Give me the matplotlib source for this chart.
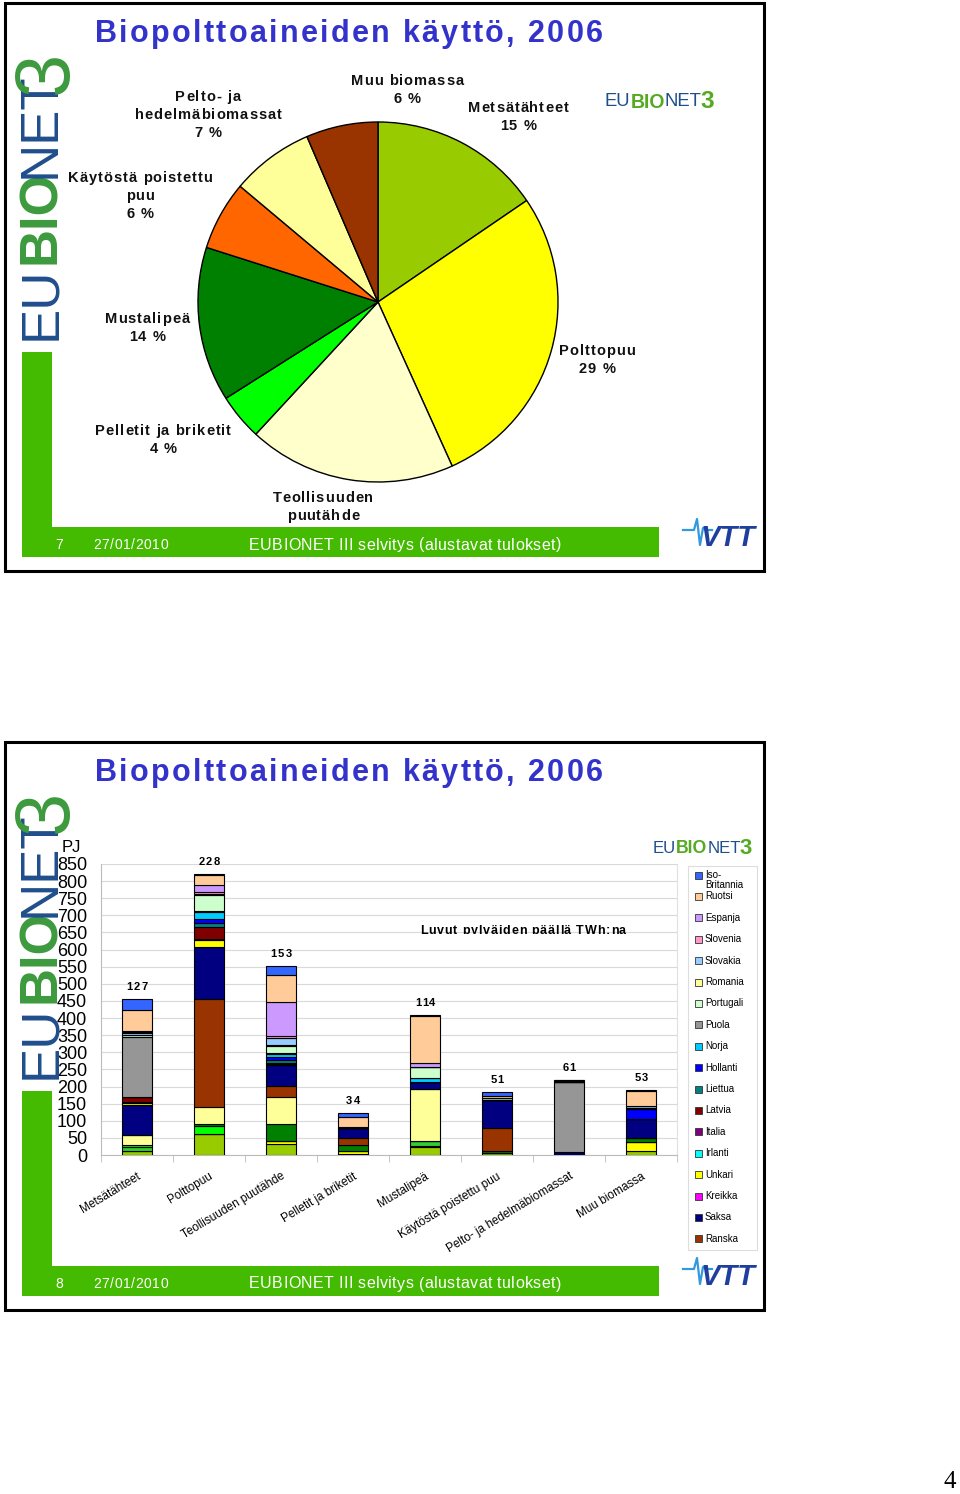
import matplotlib
matplotlib.use("Agg")
import matplotlib.pyplot as plt
from matplotlib.patches import Rectangle
from matplotlib.font_manager import FontProperties
from matplotlib.transforms import Bbox
import numpy as np

# ---------------- data ----------------
categories = ["Metsätähteet", "Polttopuu", "Teollisuuden puutähde", "Pelletit ja briketit",
              "Mustalipeä", "Käytöstä poistettu puu", "Pelto- ja hedelmäbiomassat", "Muu biomassa"]
twh_totals = [127, 228, 153, 34, 114, 51, 61, 53]

pie_labels = ["Metsätähteet\n15 %", "Polttopuu\n29 %", "Teollisuuden\npuutähde",
              "Pelletit ja briketit\n4 %", "Mustalipeä\n14 %", "Käytöstä poistettu\npuu\n6 %",
              "Pelto- ja\nhedelmäbiomassat\n7 %", "Muu biomassa\n6 %"]

# PJ per category (order of categories), stacked bottom -> top
itavalta      = [12, 62, 31, 2, 22, 5, 0, 12]
belgia        = [0, 0, 9, 11, 4, 0, 0, 26]
tsekki        = [10, 0, 0, 0, 14, 0, 0, 0]
tanska        = [8, 24, 0, 0, 0, 0, 0, 0]
viro          = [0, 5, 52, 16, 0, 7, 0, 12]
suomi         = [27, 49, 77, 0, 153, 0, 0, 0]
ranska        = [0, 317, 33, 21, 0, 66, 0, 0]
saksa         = [90, 150, 60, 28, 19, 84, 8, 55]
kreikka       = [0, 2, 0, 0, 0, 0, 0, 0]
unkari        = [6, 19, 4, 0, 0, 0, 0, 0]
irlanti       = [0, 2, 0, 0, 0, 0, 0, 0]
italia        = [3, 2, 0, 0, 0, 0, 0, 0]
latvia        = [14, 33, 2, 0, 0, 0, 0, 0]
liettua       = [0, 12, 9, 0, 0, 0, 0, 0]
hollanti      = [0, 12, 9, 0, 0, 0, 0, 28]
norja         = [0, 21, 9, 0, 12, 0, 0, 0]
puola         = [175, 3, 3, 0, 2, 0, 204, 0]
portugali     = [5, 46, 20, 3, 30, 4, 0, 4]
romania       = [0, 2, 4, 0, 0, 0, 0, 0]
slovakia      = [7, 0, 21, 0, 0, 0, 0, 6]
slovenia      = [3, 7, 5, 0, 2, 0, 0, 0]
espanja       = [3, 22, 100, 0, 11, 0, 3, 0]
ruotsi        = [62, 27, 78, 31, 138, 6, 3, 45]
iso_britannia = [32, 4, 25, 10, 3, 12, 2, 3]

series_names = ["Itävalta", "Belgia", "Tsekki", "Tanska", "Viro", "Suomi", "Ranska", "Saksa",
                "Kreikka", "Unkari", "Irlanti", "Italia", "Latvia", "Liettua", "Hollanti",
                "Norja", "Puola", "Portugali", "Romania", "Slovakia", "Slovenia", "Espanja",
                "Ruotsi", "Iso-\nBritannia"]
series_values = [itavalta, belgia, tsekki, tanska, viro, suomi, ranska, saksa, kreikka, unkari,
                 irlanti, italia, latvia, liettua, hollanti, norja, puola, portugali, romania,
                 slovakia, slovenia, espanja, ruotsi, iso_britannia]
series_colors = ["#99CC00", "#FFFF00", "#33CC33", "#00FF00", "#008000", "#FFFF99", "#993300",
                 "#000080", "#FF00FF", "#FFFF00", "#00FFFF", "#800080", "#800000", "#008080",
                 "#0000FF", "#00CCFF", "#969696", "#CCFFCC", "#FFFF99", "#99CCFF", "#FF99CC",
                 "#CC99FF", "#FFCC99", "#3366FF"]
n_legend = 18

pie_colors = ["#99CC00", "#FFFF00", "#FFFFCC", "#00FF00", "#008000", "#FF6600", "#FFFF99", "#993300"]

# ---------------- helpers ----------------
W, H = 960, 1494
fig = plt.figure(figsize=(W / 100, H / 100), dpi=100)
fig.patch.set_facecolor("white")
renderer = fig.canvas.get_renderer()
SANS = ["Liberation Sans", "DejaVu Sans"]
NARROW = ["Liberation Sans Narrow", "Liberation Sans", "DejaVu Sans"]
GREEN = "#44BB00"
TITLE_BLUE = "#3333CC"
LOGO_BLUE = "#1F4E8C"
LOGO_GREEN = "#3D9A3D"


def fx(x):
    return x / W


def fy(y):
    return 1 - y / H


def ftext(x, y, s, **kw):
    kw.setdefault("family", SANS)
    return fig.text(fx(x), fy(y), s, **kw)


def measure(s, family, size, weight):
    fp = FontProperties(family=family, size=size, weight=weight)
    w, h, d = renderer.get_text_width_height_descent(s, fp, ismath=False)
    return w


def spaced(x, y, s, sp, size, ha="left", va="center", family=SANS, weight="normal",
           clip=None, **kw):
    bar = measure("|", family, size, weight)
    total = measure(s, family, size, weight) + (len(s) - 1) * sp
    if ha == "center":
        x0 = x - total / 2
    elif ha == "right":
        x0 = x - total
    else:
        x0 = x
    for i, c in enumerate(s):
        if c == " ":
            continue
        off = (measure(s[:i] + "|", family, size, weight) - bar) if i > 0 else 0
        t = ftext(x0 + off + i * sp, y, c, fontsize=size, family=family, fontweight=weight,
                  ha="left", va=va, **kw)
        if clip is not None:
            t.set_clip_on(True)
            t.set_clip_box(clip)
    return total


def frect(x0, y0, x1, y1, **kw):
    r = Rectangle((fx(x0), fy(y1)), fx(x1) - fx(x0), fy(y0) - fy(y1),
                  transform=fig.transFigure, **kw)
    fig.patches.append(r)
    return r


def small_logo(x, y, scale):
    parts = [("EU", LOGO_BLUE, NARROW, "normal", 14.0, 0),
             ("BIO", "#55AA22", SANS, "bold", 14.8, 0),
             ("NET", LOGO_BLUE, NARROW, "normal", 14.0, 0),
             ("3", "#55AA22", NARROW, "bold", 18.5, -2)]
    cur = x
    for s, col, fam, wt, sz, dx in parts:
        ftext(cur + dx * scale, y, s, color=col, fontsize=sz * scale, va="center",
              family=fam, fontweight=wt)
        cur += measure(s, fam, sz * scale, wt) + dx * scale


def slide_frame(top, page_no):
    frect(5, top, 764, top + 568, fill=False, edgecolor="black", linewidth=2.2)
    frect(22, top + 349, 52, top + 554, facecolor=GREEN, edgecolor="none")
    frect(22, top + 524, 659, top + 554, facecolor=GREEN, edgecolor="none")
    ftext(55, top + 542, str(page_no), color="white", fontsize=10, va="center")
    spaced(93, top + 542, "27/01/2010", 0.6, 10, color="white")
    spaced(249, top + 542, "EUBIONET III selvitys (alustavat tulokset)", 0.4, 11.5,
           color="white")
    # vertical logo
    ftext(41, top + 300, "EU", color=LOGO_BLUE, fontsize=38, rotation=90,
          ha="center", va="center", family=NARROW)
    ftext(41, top + 214, "BIO", color=LOGO_GREEN, fontsize=38, rotation=90,
          ha="center", va="center", fontweight="bold")
    ftext(41, top + 122, "NET", color=LOGO_BLUE, fontsize=38, rotation=90,
          ha="center", va="center", family=NARROW)
    ftext(47, top + 70, "3", color=LOGO_GREEN, fontsize=56, rotation=90,
          ha="center", va="center", family=NARROW)
    # VTT logo
    ftext(701, top + 535, "VTT", color="#1F3F9F", fontsize=21, fontweight="bold",
          style="italic", va="center", family=SANS)
    px = [683, 694, 697, 700, 703, 707, 712]
    py = [530, 530, 519, 545, 528, 530, 530]
    fig.lines.append(plt.Line2D([fx(v) for v in px], [fy(top + v - 3) for v in py],
                                transform=fig.transFigure, color="#3399DD", linewidth=1.6))
    # title
    spaced(95, top + 31, "Biopolttoaineiden käyttö, 2006", 2.3, 22, color=TITLE_BLUE,
           weight="bold")


# ---------------- slide 1 : pie ----------------
slide_frame(3, 7)
small_logo(605, 102, 0.95)

cx, cy, R = 378, 302, 180
pax = fig.add_axes([fx(cx - R), fy(cy + R), (2 * R) / W, (2 * R) / H])
pax.pie(twh_totals, colors=pie_colors, startangle=90, counterclock=False,
        wedgeprops=dict(edgecolor="black", linewidth=1.0))
pax.set_xlim(-1, 1)
pax.set_ylim(-1, 1)
pax.axis("off")

pie_label_pos = [(518, 117), (597, 360), (323, 507), (163, 440), (147, 328), (140, 196),
                 (208, 115), (407, 90)]
for (lx, ly), txt in zip(pie_label_pos, pie_labels):
    lines = txt.split("\n")
    n = len(lines)
    for k, line in enumerate(lines):
        yy = ly + (k - (n - 1) / 2) * 18
        spaced(lx, yy, line, 1.0, 10.5, ha="center", weight="bold", color="#111111")

# ---------------- slide 2 : stacked bars ----------------
slide_frame(742, 8)
small_logo(653, 849, 0.86)

ax = fig.add_axes([fx(101), fy(1155), (677 - 101) / W, (1155 - 864) / H])
x = np.arange(len(categories))
bottom = np.zeros(len(categories))
for name, vals, col in zip(series_names, series_values, series_colors):
    v = np.array(vals, dtype=float)
    ax.bar(x, v, width=0.42, bottom=bottom, color=col, edgecolor="black", linewidth=0.8,
           zorder=3)
    bottom += v

ax.set_xlim(-0.5, len(categories) - 0.5)
ax.set_ylim(0, 850)
ax.set_yticks(np.arange(0, 851, 50))
ax.yaxis.grid(True, color="#D9D9D9", linewidth=0.8, zorder=0)
ax.set_axisbelow(True)
ax.tick_params(axis="y", length=0, pad=10, labelsize=13)
for lab in ax.get_yticklabels():
    lab.set_family(SANS)
ax.set_xticks(x)
ax.set_xticklabels(categories, rotation=31, ha="right", va="top", fontsize=8.5,
                   family=SANS, rotation_mode="anchor")
ax.tick_params(axis="x", length=0, pad=11)
ax.set_xticks(np.arange(-0.5, len(categories), 1), minor=True)
ax.tick_params(axis="x", which="minor", length=5, color="#BBBBBB")
ax.spines["top"].set_visible(False)
ax.spines["left"].set_color("#BBBBBB")
ax.spines["bottom"].set_color("#BBBBBB")
ax.spines["right"].set_color("#E0E0E0")

# total labels (TWh) above bars, positioned through the data transform
for xi, top_val, lab in zip(x, bottom, twh_totals):
    dx, dy = ax.transData.transform((xi, top_val))
    spaced(dx, H - dy - 12, str(lab), 1.3, 8, ha="center", weight="bold")

ftext(62, 847, "PJ", fontsize=12, va="center")
clip_box = Bbox.from_extents(0, H - 934, W, H)
spaced(523, 931, "Luvut pylväiden päällä TWh:na", 0.8, 9, ha="center", weight="bold",
       clip=clip_box)

# manual legend: top series first
frect(688, 866, 757, 1250, fill=False, edgecolor="#DDDDDD", linewidth=0.8)
leg_names = series_names[::-1][:n_legend]
leg_colors = series_colors[::-1][:n_legend]
for i, (nm, col) in enumerate(zip(leg_names, leg_colors)):
    yy = 875 + i * 21.4
    frect(695, yy - 3.5, 702, yy + 3.5, facecolor=col, edgecolor="#333333", linewidth=0.6)
    ftext(705, yy - 5, nm, fontsize=7, va="top", linespacing=0.95)

# page number
fig.text(fx(950), fy(1482), "4", fontsize=18, ha="center", va="center",
         family=["Liberation Serif", "DejaVu Serif"])

fig.savefig("out.png", dpi=100, facecolor="white")
